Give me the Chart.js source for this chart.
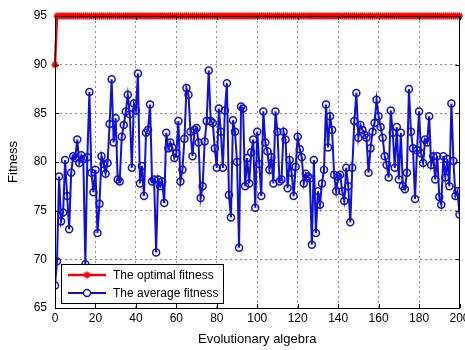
<!DOCTYPE html>
<html lang="en">
<head>
    <meta charset="UTF-8">
    <title>Fitness</title>
    <script src="https://cdn.jsdelivr.net/npm/chart.js"></script>
    <style>
        html, body { margin: 0; padding: 0; background: #fff; }
        .wrap { width: 465px; height: 350px; }
    </style>
</head>
<body>
    <div class="wrap"><canvas id="fitnessChart" width="465" height="350"></canvas></div>

    <script>
        // Valeurs
        const seriesNames = ['The optimal fitness', 'The average fitness'];
        const xTicks = [0, 20, 40, 60, 80, 100, 120, 140, 160, 180, 200];
        const yTicks = [65, 70, 75, 80, 85, 90, 95];

        const optimalFitness = [90].concat(new Array(200).fill(95));

        const averageFitness = [
            67.3, 69.8, 78.5, 73.9, 74.8, 80.2, 76.5, 73.1, 78.9, 80.6,
            80.4, 82.3, 79.9, 80.7, 80.3, 69.5, 80.5, 87.2, 78.9, 76.9,
            79.2, 72.7, 75.7, 80.6, 79.8, 78.8, 79.9, 83.9, 88.5, 82.0,
            84.5, 78.2, 78.0, 82.6, 83.8, 85.2, 86.9, 84.9, 79.4, 86.0,
            85.3, 89.1, 77.8, 79.6, 76.5, 83.0, 83.3, 85.9, 78.0, 78.2,
            70.7, 78.2, 77.5, 78.0, 75.8, 83.0, 81.4, 82.0, 81.5, 80.4,
            80.9, 84.2, 78.0, 79.2, 82.4, 87.6, 86.9, 83.1, 80.6, 83.3,
            83.5, 82.0, 76.3, 77.5, 82.1, 84.2, 89.4, 84.2, 84.0, 81.4,
            79.4, 85.5, 83.1, 79.4, 85.3, 88.1, 76.6, 74.3, 84.3, 83.1,
            80.0, 71.2, 85.7, 85.5, 77.5, 80.4, 77.8, 81.0, 82.3, 75.3,
            83.1, 79.8, 76.5, 85.2, 82.0, 81.1, 79.2, 80.5, 77.8, 85.2,
            83.1, 78.0, 78.2, 83.1, 82.3, 77.3, 80.2, 78.9, 76.5, 79.5,
            82.6, 81.3, 80.5, 77.8, 78.8, 78.5, 78.3, 71.5, 80.2, 72.7,
            77.0, 75.6, 77.8, 79.2, 85.9, 81.5, 84.7, 83.3, 78.7, 77.0,
            78.5, 78.7, 77.0, 76.0, 79.4, 77.5, 73.8, 79.4, 84.2, 87.1,
            82.5, 83.8, 83.3, 82.8, 82.5, 78.9, 81.4, 83.1, 84.0, 86.4,
            84.7, 83.6, 82.5, 80.6, 79.7, 78.4, 85.3, 83.0, 79.4, 83.6,
            78.2, 83.0, 77.5, 77.2, 78.9, 87.5, 83.1, 81.4, 76.2, 81.2,
            85.2, 80.9, 79.9, 82.3, 82.0, 84.7, 79.7, 80.6, 78.2, 80.6,
            76.4, 75.6, 80.6, 78.4, 80.3, 77.5, 86.0, 80.1, 76.5, 77.0,
            74.6
        ];

        const generations = averageFitness.map((v, i) => i);

        const FONT = '"Liberation Sans", Arial, sans-serif';

        // Cadre, petites graduations et legende dans le graphique
        const boxPlugin = {
            id: 'boxPlugin',
            afterDatasetsDraw(chart) {
                const { ctx, chartArea: a, scales } = chart;
                ctx.save();
                ctx.strokeStyle = '#000';
                ctx.lineWidth = 1;
                ctx.beginPath();
                xTicks.forEach(t => {
                    const x = Math.round(scales.x.getPixelForValue(t)) + 0.5;
                    ctx.moveTo(x, a.bottom); ctx.lineTo(x, a.bottom - 4);
                    ctx.moveTo(x, a.top); ctx.lineTo(x, a.top + 4);
                });
                yTicks.forEach(t => {
                    const y = Math.round(scales.y.getPixelForValue(t)) + 0.5;
                    ctx.moveTo(a.left, y); ctx.lineTo(a.left + 4, y);
                    ctx.moveTo(a.right, y); ctx.lineTo(a.right - 4, y);
                });
                ctx.stroke();
                ctx.strokeRect(Math.round(a.left) + 0.5, Math.round(a.top) + 0.5,
                    Math.round(a.right - a.left) - 1, Math.round(a.bottom - a.top));
                ctx.restore();
            },
            afterDraw(chart) {
                const { ctx, chartArea: a } = chart;
                const lx = a.left + 6, ly = a.bottom - 44, lw = 162, lh = 39;
                ctx.save();
                ctx.fillStyle = '#fff';
                ctx.fillRect(lx, ly, lw, lh);
                ctx.strokeStyle = '#000';
                ctx.lineWidth = 1;
                ctx.strokeRect(Math.round(lx) + 0.5, Math.round(ly) + 0.5, lw, lh);
                chart.data.datasets.forEach((ds, i) => {
                    const y = ly + 11 + i * 18;
                    ctx.strokeStyle = ds.borderColor;
                    ctx.lineWidth = ds.borderWidth;
                    ctx.beginPath();
                    ctx.moveTo(lx + 7, y);
                    ctx.lineTo(lx + 45, y);
                    ctx.stroke();
                    ctx.fillStyle = ds.backgroundColor;
                    ctx.lineWidth = ds.pointBorderWidth;
                    Chart.helpers.drawPoint(ctx, {
                        pointStyle: ds.pointStyle,
                        radius: ds.pointRadius,
                        borderWidth: ds.pointBorderWidth
                    }, lx + 26, y);
                    ctx.fillStyle = '#000';
                    ctx.font = '12px ' + FONT;
                    ctx.textBaseline = 'middle';
                    ctx.fillText(seriesNames[i], lx + 52, y + 1);
                });
                ctx.restore();
            }
        };

        new Chart(document.getElementById('fitnessChart'), {
            type: 'line',
            data: {
                labels: generations,
                datasets: [{
                    label: seriesNames[0],
                    data: generations.map((g, i) => ({ x: g, y: optimalFitness[i] })),
                    borderColor: '#ff0000',
                    backgroundColor: '#ff0000',
                    borderWidth: 2.5,
                    pointStyle: 'star',
                    pointRadius: 3.5,
                    pointBorderWidth: 1.5,
                    pointBorderColor: '#ff0000',
                    clip: 6,
                    order: 1
                }, {
                    label: seriesNames[1],
                    data: generations.map((g, i) => ({ x: g, y: averageFitness[i] })),
                    borderColor: '#1010d8',
                    backgroundColor: '#ffffff',
                    borderWidth: 2,
                    pointStyle: 'circle',
                    pointRadius: 3.5,
                    pointBorderWidth: 1.5,
                    pointBorderColor: '#1010d8',
                    pointBackgroundColor: 'rgba(0,0,0,0)',
                    order: 2
                }]
            },
            options: {
                responsive: false,
                animation: false,
                layout: { padding: { top: 16, right: 3.5, left: 0, bottom: 3 } },
                plugins: {
                    legend: { display: false },
                    tooltip: { enabled: false }
                },
                scales: {
                    x: {
                        type: 'linear',
                        min: 0,
                        max: 200,
                        afterFit: s => { s.height = 39; s.paddingLeft = 0; s.paddingRight = 0; },
                        afterBuildTicks: s => { s.ticks = xTicks.map(v => ({ value: v })); },
                        ticks: { color: '#000', font: { family: FONT, size: 12 }, padding: 3, maxRotation: 0 },
                        grid: { color: '#8c8c8c', drawTicks: false, lineWidth: 1 },
                        border: { display: false, dash: [2, 3] },
                        title: { display: true, text: 'Evolutionary algebra', color: '#000',
                                 font: { family: FONT, size: 13 }, padding: { top: 2, bottom: 0 } }
                    },
                    y: {
                        min: 65,
                        max: 95,
                        afterFit: s => { s.width = 55; s.paddingTop = 0; s.paddingBottom = 0; },
                        afterBuildTicks: s => { s.ticks = yTicks.map(v => ({ value: v })); },
                        ticks: { color: '#000', font: { family: FONT, size: 12 }, padding: 8 },
                        grid: { color: '#8c8c8c', drawTicks: false, lineWidth: 1 },
                        border: { display: false, dash: [2, 3] },
                        title: { display: true, text: 'Fitness', color: '#000',
                                 font: { family: FONT, size: 13 }, padding: { top: 6, bottom: 0 } }
                    }
                }
            },
            plugins: [boxPlugin]
        });
    </script>
</body>
</html>
